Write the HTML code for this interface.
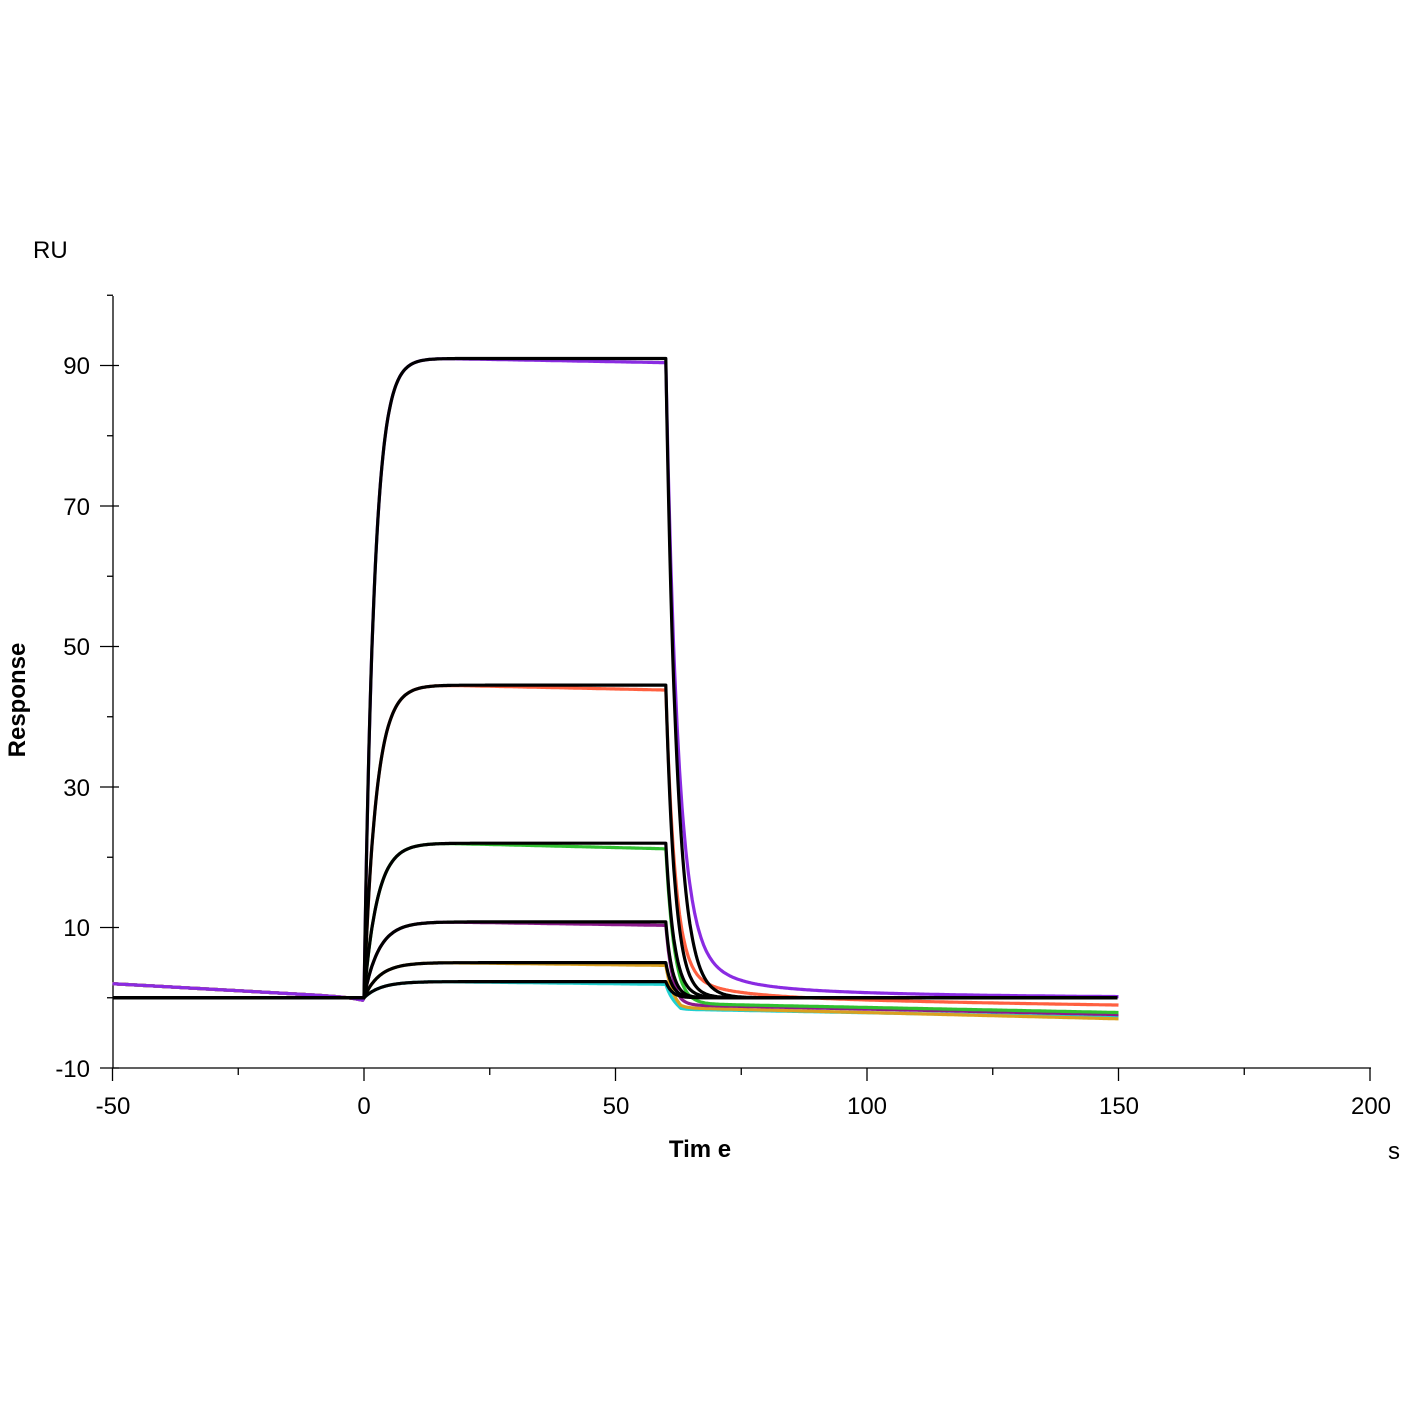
<!DOCTYPE html>
<html><head><meta charset="utf-8"><style>
html,body{margin:0;padding:0;background:#fff;}
svg{display:block;}
text{font-family:"Liberation Sans",Arial,sans-serif;}
</style></head><body>
<svg id="s" width="1401" height="1401" viewBox="0 0 1401 1401" xmlns="http://www.w3.org/2000/svg">
<rect width="1401" height="1401" fill="#fff"/>
<g stroke="#000" stroke-width="1.3" fill="none">
<line x1="113" y1="296" x2="113" y2="1068"/>
<line x1="113" y1="1068" x2="1371" y2="1068"/>
</g>
<g id="ticks" stroke="#000" stroke-width="1.3"></g>
<g font-size="24" fill="#000" text-anchor="end">
<text x="90" y="374">90</text><text x="90" y="515">70</text><text x="90" y="655">50</text>
<text x="90" y="796">30</text><text x="90" y="936">10</text><text x="90" y="1077">-10</text>
</g>
<g font-size="24" fill="#000" text-anchor="middle">
<text x="113" y="1114">-50</text><text x="364" y="1114">0</text><text x="616" y="1114">50</text>
<text x="867" y="1114">100</text><text x="1119" y="1114">150</text><text x="1371" y="1114">200</text>
</g>
<text x="33" y="258" font-size="24">RU</text>
<text x="1388" y="1159" font-size="24">s</text>
<text x="700" y="1157" font-size="24" font-weight="bold" text-anchor="middle">Tim e</text>
<text transform="translate(25,700) rotate(-90)" font-size="24" font-weight="bold" text-anchor="middle">Response</text>
<g id="curves" fill="none" stroke-width="3.2" stroke-linejoin="round"></g>
</svg>
<script>
var X=function(t){return 364+t*5.03;};
var Y=function(v){return 1068-(v+10)*7.025;};
var tk=document.getElementById('ticks'),h='';
for(var v=-10;v<=100;v+=10){var maj=((v+10)%20==0)&&v<100;
 h+= maj?'<line x1="100" y1="'+Y(v)+'" x2="119" y2="'+Y(v)+'"/>':'<line x1="107" y1="'+Y(v)+'" x2="113" y2="'+Y(v)+'"/>';}
for(var t=-50;t<=200;t+=25){var maj=(t%50==0);
 h+='<line x1="'+X(t)+'" y1="1068" x2="'+X(t)+'" y2="'+(maj?1081:1075)+'"/>';}
tk.innerHTML=h;
var S=[
 {R:91,k:0.5,c:'#8a2be2',tail:8,tk:7,slow:2.2,st:35,d0:0,sl:0,drift:-0.6},
 {R:44.5,k:0.42,c:'#ff6040',tail:3,tk:8,slow:1.2,st:30,d0:-0.3,sl:-0.8,drift:-0.7},
 {R:22,k:0.38,c:'#30c030',tail:0,tk:10,slow:0,st:30,d0:-0.8,sl:-1.3,drift:-0.8},
 {R:10.8,k:0.34,c:'#8b1a8b',tail:0,tk:10,slow:0,st:30,d0:-1.0,sl:-1.4,drift:-0.5},
 {R:5,k:0.32,c:'#daa020',tail:0,tk:10,slow:0,st:30,d0:-1.4,sl:-1.6,drift:-0.4},
 {R:2.3,k:0.3,c:'#20d0d0',tail:0,tk:10,slow:0,st:30,d0:-1.6,sl:-1.2,drift:-0.4}
];
function fit(s,t){ if(t<0)return 0; if(t<=60)return s.R*(1-Math.exp(-s.k*t));
 var r60=s.R*(1-Math.exp(-s.k*60)); var kd=0.45+ (s.R<20?0.1:0); return r60*Math.exp(-kd*(t-60)*(1+ (91-s.R)/200));}
function data(s,t){ if(t<0)return 2*(-t/50)-0.4*Math.exp(-Math.abs(t)/3);
 if(t<=60){var d=(t>15?s.drift*(t-15)/45:0); return fit(s,t)+d;}
 var u=t-60;
 return fit(s,t)+s.drift*Math.exp(-u/2)+s.d0*Math.min(1,u/3)+s.sl*u/90
  + s.tail*(1-Math.exp(-u/1.5))*Math.exp(-u/s.tk) + s.slow*(1-Math.exp(-u/2))*Math.exp(-u/s.st);}
var g='',i,s,t,p;
for(i=S.length-1;i>=0;i--){s=S[i];p='';
 for(t=-50;t<=150;t+=0.25){p+=(t==-50?'M':'L')+X(t).toFixed(1)+','+Y(data(s,t)).toFixed(1);}
 g+='<path d="'+p+'" stroke="'+s.c+'"/>';}
for(i=0;i<S.length;i++){s=S[i];p='M'+X(-50)+','+Y(0)+'L'+X(0)+','+Y(0);
 for(t=0;t<=150;t+=0.2){p+='L'+X(t).toFixed(1)+','+Y(fit(s,t)).toFixed(1);}
 g+='<path d="'+p+'" stroke="#000"/>';}
document.getElementById('curves').innerHTML=g;
</script>
</body></html>
